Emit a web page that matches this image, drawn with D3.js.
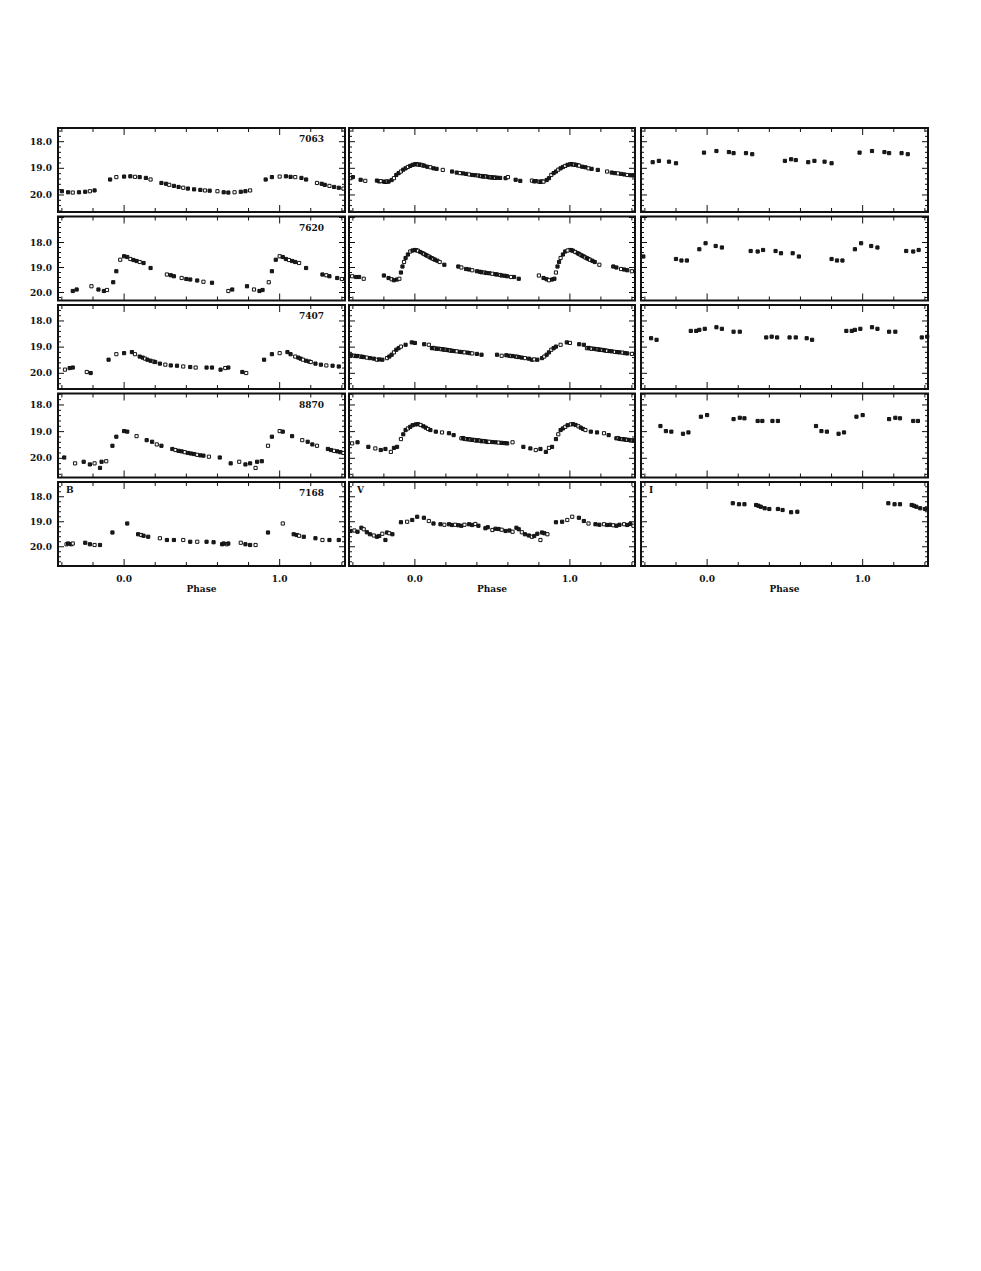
<!DOCTYPE html>
<html>
<head>
<meta charset="utf-8">
<script src="https://cdn.jsdelivr.net/npm/d3@7"></script>
<style>
html,body{margin:0;padding:0;background:#fff;}
svg{display:block;}
text{font-family:"DejaVu Serif","Liberation Serif",serif;font-weight:bold;fill:#111;}
</style>
</head>
<body>
<script>
// ---------------- data ----------------
const starIds = ["7063", "7620", "7407", "8870", "7168"];
const bands = ["B", "V", "I"];
const magTicks = [18, 19, 20];
const phaseTickLabels = [0, 1];
const phaseDomain = [-0.425, 1.42];
const rowMagDomains = [
  [17.486, 20.64],
  [16.96, 20.32],
  [17.39, 20.60],
  [17.57, 20.72],
  [17.41, 20.77]
];

// star 7063
const b7063 = [[0.00,19.31],[0.04,19.30],[0.07,19.32],[0.10,19.33],[0.14,19.36],[0.17,19.42],[0.24,19.55],[0.27,19.58],[0.29,19.62],[0.32,19.66],[0.35,19.70],[0.38,19.73],[0.41,19.76],[0.45,19.79],[0.49,19.81],[0.52,19.83],[0.55,19.84],[0.60,19.86],[0.64,19.90],[0.67,19.91],[0.71,19.90],[0.75,19.88],[0.78,19.86],[0.81,19.83],[0.91,19.42],[0.95,19.33]];
const v7063 = [[0.00,18.85],[0.01,18.84],[0.02,18.86],[0.03,18.86],[0.04,18.87],[0.05,18.89],[0.06,18.90],[0.08,18.94],[0.10,18.96],[0.12,19.00],[0.14,19.02],[0.18,19.06],[0.24,19.12],[0.27,19.16],[0.29,19.18],[0.31,19.19],[0.33,19.21],[0.35,19.23],[0.37,19.25],[0.39,19.26],[0.41,19.27],[0.42,19.29],[0.43,19.29],[0.44,19.31],[0.45,19.30],[0.46,19.31],[0.47,19.32],[0.48,19.34],[0.49,19.33],[0.50,19.35],[0.51,19.34],[0.52,19.36],[0.53,19.35],[0.55,19.36],[0.585,19.37],[0.60,19.33],[0.65,19.43],[0.68,19.47],[0.755,19.46],[0.77,19.49],[0.78,19.48],[0.80,19.50],[0.81,19.51],[0.82,19.49],[0.83,19.50],[0.85,19.44],[0.865,19.37],[0.88,19.25],[0.895,19.18],[0.91,19.12],[0.925,19.05],[0.94,19.00],[0.955,18.95],[0.97,18.91],[0.985,18.87]];
const i7063 = [[0.98,18.41],[0.06,18.35],[0.14,18.39],[0.17,18.43],[0.25,18.43],[0.29,18.47],[0.50,18.72],[0.54,18.66],[0.57,18.69],[0.65,18.77],[0.69,18.72],[0.755,18.75],[0.80,18.81]];

// star 7620
const b7620 = [[0.00,18.55],[0.02,18.58],[0.04,18.66],[0.06,18.70],[0.08,18.74],[0.10,18.78],[0.125,18.82],[0.17,19.02],[0.275,19.28],[0.30,19.31],[0.32,19.35],[0.37,19.42],[0.40,19.46],[0.425,19.48],[0.47,19.52],[0.51,19.57],[0.565,19.61],[0.67,19.94],[0.695,19.88],[0.79,19.75],[0.835,19.88],[0.87,19.94],[0.89,19.90],[0.93,19.59],[0.95,19.15],[0.975,18.69]];
const v7620 = [[0.00,18.30],[0.01,18.31],[0.02,18.33],[0.035,18.38],[0.05,18.43],[0.06,18.46],[0.07,18.50],[0.08,18.53],[0.09,18.56],[0.10,18.60],[0.11,18.63],[0.12,18.66],[0.13,18.69],[0.145,18.73],[0.16,18.78],[0.19,18.89],[0.28,18.96],[0.30,19.00],[0.33,19.06],[0.35,19.08],[0.37,19.11],[0.40,19.15],[0.42,19.17],[0.43,19.19],[0.45,19.20],[0.46,19.22],[0.48,19.23],[0.50,19.25],[0.52,19.27],[0.53,19.28],[0.55,19.30],[0.56,19.32],[0.58,19.33],[0.595,19.35],[0.62,19.38],[0.64,19.38],[0.67,19.45],[0.80,19.32],[0.83,19.42],[0.85,19.47],[0.865,19.51],[0.885,19.48],[0.90,19.45],[0.91,19.20],[0.92,18.96],[0.93,18.78],[0.94,18.62],[0.955,18.48],[0.97,18.36],[0.985,18.32]];
const i7620 = [[0.95,18.27],[0.99,18.03],[0.055,18.14],[0.095,18.20],[0.28,18.34],[0.325,18.36],[0.36,18.30],[0.44,18.34],[0.475,18.43],[0.55,18.43],[0.59,18.56],[0.80,18.66],[0.835,18.72],[0.87,18.72]];

// star 7407
const b7407 = [[0.00,19.23],[0.05,19.19],[0.07,19.27],[0.10,19.36],[0.12,19.40],[0.135,19.44],[0.15,19.48],[0.17,19.52],[0.19,19.55],[0.20,19.57],[0.23,19.63],[0.265,19.67],[0.30,19.70],[0.34,19.71],[0.38,19.74],[0.425,19.76],[0.46,19.78],[0.53,19.78],[0.565,19.78],[0.62,19.86],[0.65,19.80],[0.67,19.78],[0.76,19.95],[0.785,19.99],[0.90,19.48],[0.95,19.27]];
const v7407 = [[0.00,18.84],[0.06,18.89],[0.09,18.91],[0.11,19.04],[0.12,19.03],[0.13,19.05],[0.14,19.06],[0.155,19.06],[0.17,19.08],[0.18,19.08],[0.19,19.10],[0.20,19.10],[0.21,19.11],[0.22,19.12],[0.23,19.13],[0.24,19.14],[0.255,19.15],[0.27,19.16],[0.29,19.18],[0.305,19.19],[0.32,19.20],[0.34,19.21],[0.355,19.23],[0.37,19.24],[0.40,19.26],[0.43,19.29],[0.53,19.29],[0.56,19.33],[0.59,19.31],[0.61,19.33],[0.62,19.34],[0.63,19.34],[0.65,19.36],[0.66,19.37],[0.67,19.38],[0.69,19.40],[0.71,19.42],[0.735,19.44],[0.755,19.48],[0.77,19.47],[0.79,19.48],[0.82,19.42],[0.835,19.36],[0.85,19.29],[0.865,19.20],[0.88,19.10],[0.895,19.04],[0.91,18.98],[0.94,18.91],[0.98,18.82]];
const i7407 = [[0.895,18.38],[0.93,18.38],[0.95,18.34],[0.985,18.30],[0.06,18.24],[0.095,18.30],[0.17,18.41],[0.21,18.41],[0.38,18.63],[0.415,18.60],[0.45,18.63],[0.53,18.63],[0.57,18.63],[0.64,18.66],[0.675,18.72]];

// star 8870
const b8870 = [[0.00,18.98],[0.02,19.00],[0.08,19.17],[0.145,19.32],[0.18,19.38],[0.21,19.48],[0.24,19.53],[0.31,19.65],[0.33,19.69],[0.35,19.72],[0.37,19.74],[0.39,19.77],[0.41,19.80],[0.43,19.82],[0.45,19.84],[0.47,19.87],[0.49,19.89],[0.51,19.90],[0.545,19.94],[0.615,19.97],[0.685,20.19],[0.74,20.13],[0.78,20.23],[0.81,20.19],[0.845,20.36],[0.855,20.13],[0.885,20.11],[0.925,19.53],[0.95,19.19]];
const v8870 = [[0.005,18.73],[0.02,18.72],[0.037,18.75],[0.055,18.80],[0.07,18.85],[0.085,18.90],[0.10,18.94],[0.135,19.00],[0.175,19.03],[0.22,19.06],[0.25,19.13],[0.30,19.25],[0.31,19.24],[0.32,19.27],[0.33,19.28],[0.34,19.28],[0.35,19.29],[0.36,19.30],[0.37,19.31],[0.38,19.31],[0.39,19.33],[0.40,19.33],[0.41,19.33],[0.42,19.34],[0.43,19.36],[0.44,19.35],[0.45,19.36],[0.46,19.37],[0.47,19.39],[0.48,19.38],[0.50,19.39],[0.52,19.40],[0.54,19.41],[0.56,19.42],[0.58,19.43],[0.595,19.44],[0.63,19.40],[0.70,19.57],[0.745,19.63],[0.78,19.69],[0.81,19.65],[0.845,19.76],[0.865,19.61],[0.885,19.57],[0.91,19.28],[0.925,19.10],[0.94,18.94],[0.955,18.88],[0.97,18.82],[0.985,18.76]];
const i8870 = [[0.70,18.79],[0.735,18.98],[0.77,19.00],[0.845,19.08],[0.88,19.03],[0.96,18.44],[0.00,18.38],[0.17,18.53],[0.21,18.48],[0.24,18.50],[0.325,18.60],[0.355,18.60],[0.42,18.60],[0.455,18.60]];

// star 7168
const b7168 = [[0.02,19.07],[0.09,19.50],[0.11,19.53],[0.125,19.56],[0.155,19.60],[0.23,19.66],[0.275,19.73],[0.32,19.73],[0.38,19.73],[0.425,19.80],[0.47,19.80],[0.53,19.80],[0.575,19.82],[0.63,19.90],[0.66,19.90],[0.64,19.87],[0.67,19.87],[0.75,19.84],[0.78,19.90],[0.81,19.93],[0.845,19.93],[0.925,19.43]];
const v7168 = [[0.015,18.80],[0.058,18.84],[0.09,18.97],[0.12,19.07],[0.165,19.10],[0.19,19.12],[0.22,19.10],[0.24,19.13],[0.26,19.12],[0.28,19.14],[0.30,19.16],[0.32,19.12],[0.35,19.10],[0.37,19.13],[0.39,19.09],[0.41,19.16],[0.455,19.26],[0.47,19.22],[0.50,19.33],[0.52,19.28],[0.54,19.29],[0.56,19.32],[0.585,19.37],[0.61,19.35],[0.63,19.40],[0.655,19.24],[0.67,19.30],[0.69,19.42],[0.71,19.50],[0.735,19.55],[0.755,19.60],[0.77,19.57],[0.79,19.48],[0.81,19.73],[0.82,19.43],[0.835,19.46],[0.855,19.50],[0.91,19.02],[0.95,19.00],[0.983,18.93]];
const i7168 = [[0.165,18.26],[0.205,18.30],[0.24,18.30],[0.315,18.33],[0.33,18.36],[0.345,18.40],[0.37,18.46],[0.40,18.49],[0.455,18.49],[0.485,18.53],[0.54,18.62],[0.58,18.60]];

const curves = [
  [b7063, v7063, i7063],
  [b7620, v7620, i7620],
  [b7407, v7407, i7407],
  [b8870, v8870, i8870],
  [b7168, v7168, i7168]
];

// ---------------- layout ----------------
const W = 981, H = 1271;
const colX = [[58, 345], [349, 635], [641, 928]];
const rowTop = [128, 216.5, 305, 393.5, 482];
const rowH = 84;

const svg = d3.select("body").append("svg").attr("width", W).attr("height", H);

const xTickMinor = d3.range(-0.4, 1.41, 0.2).map(v => Math.round(v * 10) / 10);

function foldPoints(base) {
  const out = [];
  base.forEach(p => {
    [-1, 0, 1].forEach(k => {
      const ph = p[0] + k;
      if (ph >= phaseDomain[0] + 0.005 && ph <= phaseDomain[1] - 0.005) out.push([ph, p[1]]);
    });
  });
  return out;
}

curves.forEach((rowCurves, r) => {
  const y = d3.scaleLinear().domain(rowMagDomains[r]).range([rowTop[r], rowTop[r] + rowH]);
  const yMinor = d3.range(Math.ceil(rowMagDomains[r][0] * 5) / 5, rowMagDomains[r][1], 0.2);
  rowCurves.forEach((data, c) => {
    const x = d3.scaleLinear().domain(phaseDomain).range(colX[c]);
    const g = svg.append("g");
    const x0 = colX[c][0], x1 = colX[c][1], y0 = rowTop[r], y1 = rowTop[r] + rowH;

    // ticks (inward, all four sides)
    const tg = g.append("g").attr("stroke", "#111").attr("stroke-width", 1);
    xTickMinor.forEach(t => {
      const major = Math.abs(t - Math.round(t)) < 1e-6;
      const len = major ? 7 : 4;
      const xx = x(t);
      tg.append("line").attr("x1", xx).attr("x2", xx).attr("y1", y1).attr("y2", y1 - len);
      tg.append("line").attr("x1", xx).attr("x2", xx).attr("y1", y0).attr("y2", y0 + len);
    });
    yMinor.forEach(t => {
      const major = Math.abs(t - Math.round(t)) < 1e-6;
      const len = major ? 6 : 3;
      const yy = y(t);
      tg.append("line").attr("x1", x0).attr("x2", x0 + len).attr("y1", yy).attr("y2", yy);
      tg.append("line").attr("x1", x1).attr("x2", x1 - len).attr("y1", yy).attr("y2", yy);
    });

    // points
    const pts = foldPoints(data);
    const sym = d3.symbol().type(d3.symbolSquare).size(10);
    g.append("g").selectAll("path").data(pts).join("path")
      .attr("transform", d => `translate(${x(d[0])},${y(d[1])})`)
      .attr("d", sym)
      .attr("fill", (d, i) => (c === 2 || i % 3 !== 1) ? "#1a1a1a" : "#fff")
      .attr("stroke", "#111")
      .attr("stroke-width", 1);

    // frame
    g.append("rect").attr("x", x0).attr("y", y0).attr("width", x1 - x0).attr("height", rowH)
      .attr("fill", "none").attr("stroke", "#111").attr("stroke-width", 2);

    // y labels in first column
    if (c === 0) {
      magTicks.forEach(m => {
        g.append("text").attr("x", x0 - 6).attr("y", y(m)).attr("dy", "0.35em")
          .attr("text-anchor", "end").attr("font-size", 9).text(d3.format(".1f")(m));
      });
      g.append("text").attr("x", x1 - 21).attr("y", y0 + 14).attr("text-anchor", "end")
        .attr("font-size", 9).text(starIds[r]);
    }
    // band labels in last row
    if (r === curves.length - 1) {
      g.append("text").attr("x", x0 + 8).attr("y", y0 + 11).attr("font-size", 9).text(bands[c]);
      phaseTickLabels.forEach(t => {
        g.append("text").attr("x", x(t)).attr("y", y1 + 16).attr("text-anchor", "middle")
          .attr("font-size", 9).text(d3.format(".1f")(t));
      });
      g.append("text").attr("x", (x0 + x1) / 2).attr("y", y1 + 26).attr("text-anchor", "middle")
        .attr("font-size", 9).text("Phase");
    }
  });
});
</script>
</body>
</html>
